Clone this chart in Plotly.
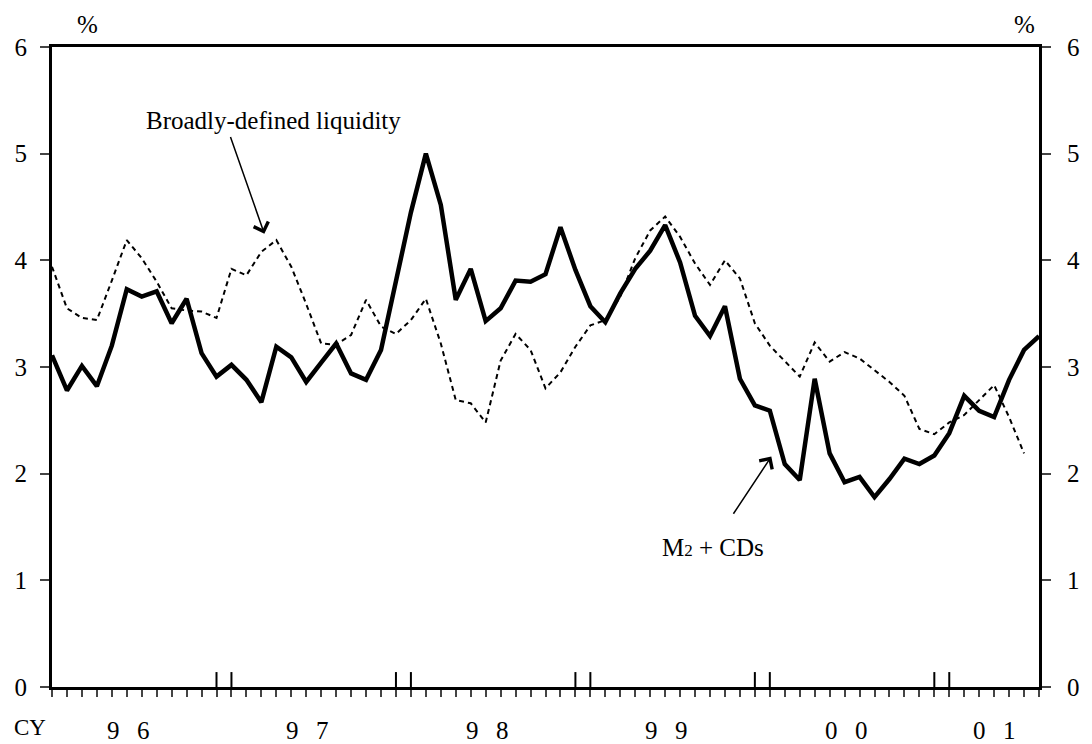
import plotly.graph_objects as go

# Monthly data, Jan 1996 onward (y/y % change)
months = [f"{y}-{m:02d}" for y in range(1996, 2002) for m in range(1, 13)][:67]
m2_cds = [3.11, 2.78, 3.01, 2.82, 3.20, 3.73, 3.66, 3.71, 3.41, 3.64, 3.13, 2.91,
          3.02, 2.88, 2.67, 3.19, 3.09, 2.86, 3.04, 3.22, 2.94, 2.88, 3.16, 3.81,
          4.45, 5.00, 4.52, 3.63, 3.92, 3.43, 3.55, 3.81, 3.80, 3.87, 4.31, 3.91,
          3.57, 3.42, 3.69, 3.92, 4.09, 4.33, 3.98, 3.48, 3.29, 3.57, 2.89, 2.64,
          2.59, 2.09, 1.94, 2.89, 2.19, 1.92, 1.97, 1.78, 1.95, 2.14, 2.09, 2.17,
          2.38, 2.73, 2.59, 2.53, 2.88, 3.16, 3.29]
liquidity = [3.94, 3.55, 3.46, 3.44, 3.81, 4.19, 4.02, 3.80, 3.55, 3.53, 3.52, 3.46,
             3.92, 3.86, 4.08, 4.19, 3.94, 3.59, 3.22, 3.21, 3.30, 3.63, 3.38, 3.31,
             3.44, 3.64, 3.22, 2.69, 2.66, 2.48, 3.06, 3.31, 3.16, 2.80, 2.95, 3.19,
             3.39, 3.44, 3.66, 4.02, 4.28, 4.41, 4.22, 3.97, 3.77, 4.00, 3.83, 3.41,
             3.20, 3.05, 2.91, 3.23, 3.05, 3.14, 3.08, 2.97, 2.86, 2.73, 2.42, 2.37,
             2.48, 2.55, 2.69, 2.83, 2.53, 2.19]
year_labels = ["9\u2002\u20096", "9\u2002\u20097", "9\u2002\u20098",
               "9\u2002\u20099", "0\u2002\u20090", "0\u2002\u20091"]
y_ticks = [0, 1, 2, 3, 4, 5, 6]

idx = list(range(len(months)))
FONT = "Liberation Serif"

fig = go.Figure()
fig.add_trace(go.Scatter(x=idx, y=m2_cds, mode="lines", name="M2 + CDs",
                         line=dict(color="black", width=4.5), yaxis="y"))
fig.add_trace(go.Scatter(x=idx[:len(liquidity)], y=liquidity, mode="lines",
                         name="Broadly-defined liquidity",
                         line=dict(color="black", width=2, dash="5px,4px"), yaxis="y2"))

# year boundary double ticks (Dec / Jan)
shapes = []
for i, m in enumerate(months):
    if i > 0 and (m.endswith("-12") or m.endswith("-01")):
        shapes.append(dict(type="line", xref="x", yref="y", x0=i, x1=i, y0=0, y1=0.14,
                           line=dict(color="black", width=2)))

annotations = []
years = sorted(set(m[:4] for m in months))
for lab, yr in zip(year_labels, years):
    ii = [i for i, m in enumerate(months) if m.startswith(yr)]
    mid = (ii[0] + ii[-1]) / 2
    if len(ii) == 12:
        mid -= 0.4
    annotations.append(dict(x=mid, y=0, xref="x", yref="paper", text=lab, showarrow=False,
                            xanchor="center", yanchor="middle",
                            yshift=-43, font=dict(family=FONT, size=25, color="black")))
annotations.append(dict(x=0.0, y=0, xref="paper", yref="paper", text="CY", showarrow=False,
                        xanchor="center", yanchor="middle",
                        xshift=-22, yshift=-40, font=dict(family=FONT, size=23, color="black")))
annotations.append(dict(x=0.0, y=1, xref="paper", yref="paper", text="%", showarrow=False,
                        xanchor="center", yanchor="middle",
                        xshift=35, yshift=23, font=dict(family=FONT, size=25, color="black")))
annotations.append(dict(x=1.0, y=1, xref="paper", yref="paper", text="%", showarrow=False,
                        xanchor="center", yanchor="middle",
                        xshift=-15, yshift=23, font=dict(family=FONT, size=25, color="black")))
# labels with arrows
annotations.append(dict(x=14.2, y=4.25, xref="x", yref="y", ax=11.9, ay=5.17, axref="x", ayref="y",
                        text="", showarrow=True, arrowhead=4, arrowsize=2, arrowwidth=1.5,
                        arrowcolor="black"))
annotations.append(dict(x=14.8, y=5.31, xref="x", yref="y", text="Broadly-defined liquidity",
                        showarrow=False, xanchor="center", yanchor="middle",
                        font=dict(family=FONT, size=25, color="black")))
annotations.append(dict(x=48.1, y=2.16, xref="x", yref="y", ax=45.5, ay=1.61, axref="x", ayref="y",
                        text="", showarrow=True, arrowhead=4, arrowsize=2, arrowwidth=1.5,
                        arrowcolor="black"))
annotations.append(dict(x=44.2, y=1.31, xref="x", yref="y",
                        text="M<span style='font-size:17px'>2</span> + CDs",
                        showarrow=False, xanchor="center", yanchor="middle",
                        font=dict(family=FONT, size=25, color="black")))

yax = dict(range=[0, 6], tickvals=y_ticks, ticks="outside", ticklen=9, tickwidth=2,
           showline=True, linewidth=3, linecolor="black", showgrid=False, zeroline=False,
           tickfont=dict(family=FONT, size=25, color="black"), fixedrange=True)

fig.update_layout(
    width=1092, height=744,
    margin=dict(l=52, r=42, t=47, b=57),
    paper_bgcolor="white", plot_bgcolor="white",
    showlegend=False,
    xaxis=dict(range=[0, len(months) - 1], tickvals=idx, ticktext=[""] * len(idx),
               ticks="outside", ticklen=7, tickwidth=2, showline=True, linewidth=3,
               linecolor="black", mirror=True, showgrid=False, zeroline=False),
    yaxis=dict(**yax, side="left", ticklabelstandoff=8),
    yaxis2=dict(**yax, side="right", overlaying="y", ticklabelstandoff=11),
    shapes=shapes,
    annotations=annotations,
)
fig.write_html("out.html", config={"displayModeBar": False},
               post_script="document.body.style.margin='0';document.body.style.overflow='hidden';")
